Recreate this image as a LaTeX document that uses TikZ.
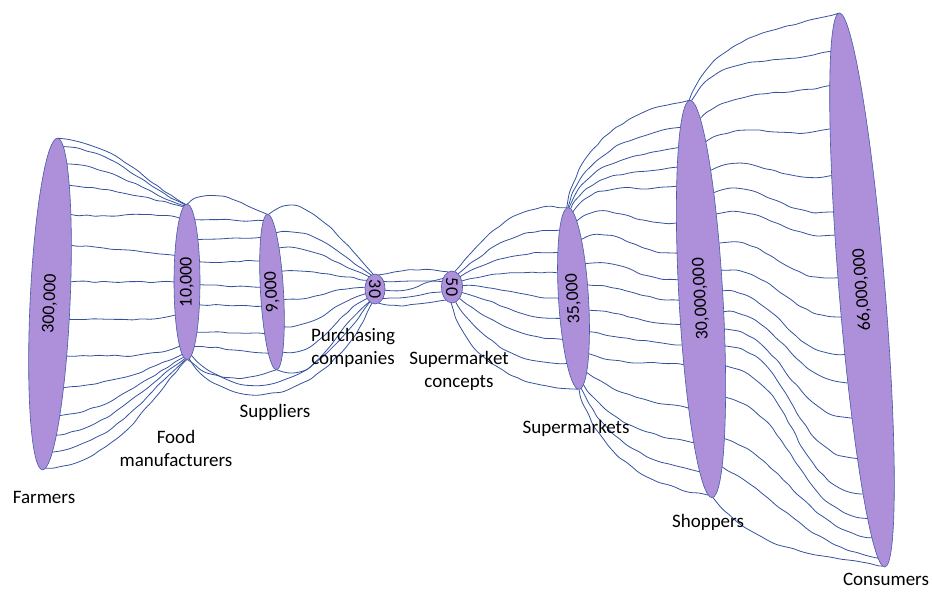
\documentclass[tikz,border=0pt]{standalone}
\usepackage{fontspec}
\setmainfont{Carlito}
\usetikzlibrary{shapes.geometric,decorations.pathmorphing}
\definecolor{blobfill}{RGB}{173,143,218}
\definecolor{blobedge}{RGB}{68,92,165}
\definecolor{wirecol}{RGB}{52,82,160}
\pgfdeclarelayer{bg}
\pgfsetlayers{bg,main}
\begin{document}
\begin{tikzpicture}[x=1pt,y=1pt,
  blob/.style={ellipse, draw=blobedge, fill=blobfill, line width=0.6pt, inner sep=0pt, font=\fontsize{18}{22}\selectfont},
  lab/.style={font=\fontsize{19}{23}\selectfont, align=center, inner sep=0pt},
  wire/.style={draw=wirecol, line width=0.8pt, decorate, decoration={random steps, segment length=8pt, amplitude=0.9pt}, rounded corners=3pt},
  onF/.style={shift={(F.center)}, rotate=-2.6, xscale=20, yscale=166},
  onM/.style={shift={(M.center)}, xscale=13, yscale=78},
  onS/.style={shift={(S.center)}, rotate=3.3, xscale=11, yscale=78},
  onT/.style={shift={(T.center)}, xscale=10, yscale=15},
  onU/.style={shift={(U.center)}, xscale=10.5, yscale=16},
  onV/.style={shift={(V.center)}, rotate=3.5, xscale=15, yscale=91},
  onW/.style={shift={(W.center)}, rotate=3.2, xscale=22, yscale=199},
  onX/.style={shift={(X.center)}, rotate=4.7, xscale=23, yscale=278}
]
\pgfmathsetseed{11}
\useasboundingbox (0,0) rectangle (933,592);

% ellipses
\node[blob, minimum width=332pt, minimum height=40pt, rotate=87.4] (F) at (50,288) {300,000};
\node[blob, minimum width=156pt, minimum height=26pt, rotate=90] (M) at (187,310) {10,000};
\node[blob, minimum width=156pt, minimum height=23pt, rotate=93.3] (S) at (272,300) {9,000};
\node[blob, minimum width=30pt, minimum height=20pt, rotate=-90] (T) at (375,303) {30};
\node[blob, minimum width=32pt, minimum height=21pt, rotate=-90] (U) at (452,305) {50};
\node[blob, minimum width=182pt, minimum height=30pt, rotate=93.5] (V) at (573.5,293.5) {35,000};
\node[blob, minimum width=398pt, minimum height=44pt, rotate=93.2] (W) at (701,293) {30,000,000};
\node[blob, minimum width=556pt, minimum height=46pt, rotate=94.7] (X) at (862,302) {66,000,000};

% labels
\node[lab] (lF) at (44,95) {Farmers};
\node[lab] (lM) at (176,143.5) {Food\\manufacturers};
\node[lab] (lS) at (275,180) {Suppliers};
\node[lab] (lT) at (353,244.5) {Purchasing\\companies};
\node[lab] (lU) at (459,221.5) {Supermarket\\concepts};
\node[lab] (lV) at (576,164) {Supermarkets};
\node[lab] (lW) at (708,70) {Shoppers};
\node[lab] (lX) at (886,13) {Consumers};

\begin{pgfonlayer}{bg}
% Farmers -> Food manufacturers
\foreach \sa/\sb/\so/\si in {88/95/-5/150, 72/98/-5/155, 58/102/-5/160, 46/106/-5/165,
  33/125/-5/170, 21/160/-3/175, 8/180/0/180, -5/205/0/190, -18/235/3/200,
  -30/248/5/205, -42/255/8/210, -52/260/10/215, -63/264/10/222, -82/268/5/228}
  \draw[wire] ([onF]\sa:1pt) to[out=\so,in=\si] ([onM]\sb:1pt);
% Food manufacturers -> Suppliers
\foreach \sa/\sb/\so/\si in {88/92/40/160, 53/113/0/180, 33/135/0/180, 15/156/0/180,
  -2/176/0/180, -17/190/0/180, -40/212/0/180, -56/231/0/180, -86/268/-40/200}
  \draw[wire] ([onM]\sa:1pt) to[out=\so,in=\si] ([onS]\sb:1pt);
% Suppliers -> Purchasing companies
\foreach \sa/\sb/\so/\si in {85/100/40/135, 49/110/10/150, 34/125/5/160, 15/145/0/170,
  -6/175/0/180, -27/200/0/195, -51/220/-5/205, -88/240/-20/215}
  \draw[wire] ([onS]\sa:1pt) to[out=\so,in=\si] ([onT]\sb:1pt);
% Food manufacturers -> Purchasing companies (below suppliers)
\draw[wire] ([onM]-80:1pt) .. controls +(45,-65) and +(-40,-95) .. ([onT]250:1pt);
\draw[wire] ([onM]-70:1pt) .. controls +(55,-55) and +(-55,-85) .. ([onT]238:1pt);
% Purchasing companies -> Supermarket concepts
\foreach \sa/\sb/\so/\si in {70/110/10/170, 30/160/0/180, -5/150/-5/190,
  -40/200/0/180, -70/235/-10/190}
  \draw[wire] ([onT]\sa:1pt) to[out=\so,in=\si] ([onU]\sb:1pt);
% Supermarket concepts -> Supermarkets
\foreach \sa/\sb/\so/\si in {75/95/50/172, 55/131/40/178, 40/149/30/180, 22/163/15/180,
  5/179/0/180, -20/192/-15/180, -45/206/-35/180, -70/225/-55/182, -95/265/-75/180}
  \draw[wire] ([onU]\sa:1pt) to[out=\so,in=\si] ([onV]\sb:1pt);
% Supermarkets -> Shoppers
\foreach \sa/\sb/\so/\si in {95/92/80/188, 90/120/75/188, 86/130/70/190, 80/138/62/190,
  72/145/55/190, 58/157/40/190, 40/166/25/188, 22/174/10/185, 8/180/0/180,
  -8/187/-5/178, -22/193/-10/175, -38/199/-20/172, -55/213/-35/170,
  -72/226/-55/170, -82/240/-65/170, -90/260/-75/172}
  \draw[wire] ([onV]\sa:1pt) to[out=\so,in=\si] ([onW]\sb:1pt);
% Shoppers -> Consumers
\foreach \sa/\sb/\so/\si in {92/92/70/195, 86/120/60/195, 65/132/40/195, 52/144/30/195,
  40/155/25/195, 32/163/20/192, 25/168/15/190, 16/177/10/190, 8/185/5/185,
  2/193/0/185, -4/199/0/180, -9/207/-5/180, -14/217/-5/178, -20/227/-10/175,
  -30/235/-15/175, -45/243/-20/172, -58/255/-30/170, -88/265/-50/170}
  \draw[wire] ([onW]\sa:1pt) to[out=\so,in=\si] ([onX]\sb:1pt);
\end{pgfonlayer}
\end{tikzpicture}
\end{document}
